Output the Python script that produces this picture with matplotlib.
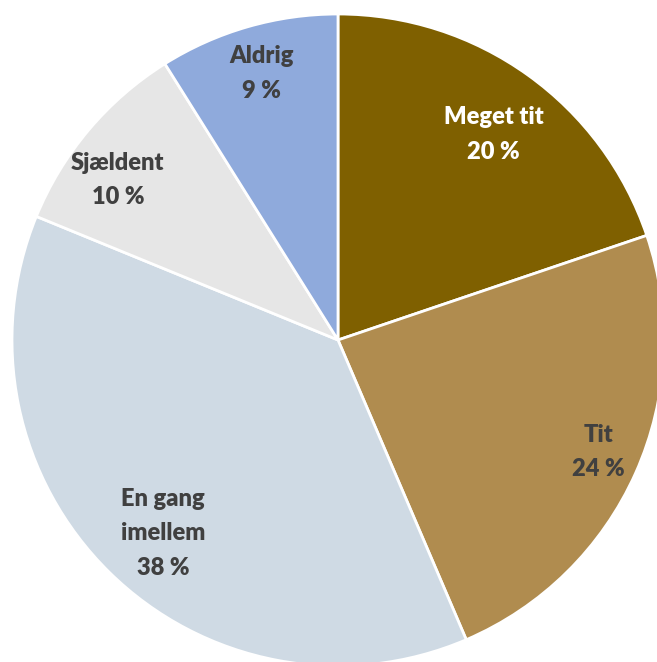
import matplotlib.pyplot as plt
import numpy as np

labels = ["Meget tit", "Tit", "En gang\nimellem", "Sjældent", "Aldrig"]
values = [20, 24, 38, 10, 9]
colors = ["#7F6000", "#B08C4F", "#CFDAE4", "#E6E6E6", "#8FAADC"]
text_colors = ["white", "#404040", "#404040", "#404040", "#404040"]
# label placement: radius fraction and angular nudge (deg) from wedge middle
label_r = [0.79, 0.87, 0.80, 0.835, 0.85]
label_da = [-1.5, 0.8, 2.4, 4.1, 0.0]

fig = plt.figure(figsize=(6.57, 6.62), dpi=100)
ax = fig.add_axes([0, 0, 1, 1])

wedges, _ = ax.pie(values, colors=colors, startangle=90, counterclock=False,
                   wedgeprops=dict(edgecolor="white", linewidth=2))

for w, lab, v, c, r, da in zip(wedges, labels, values, text_colors, label_r, label_da):
    ang = np.deg2rad((w.theta1 + w.theta2) / 2 + da)
    ax.text(r * np.cos(ang), r * np.sin(ang), f"{lab}\n{v} %",
            ha="center", va="center", color=c, fontsize=17,
            fontweight="heavy", family="Lato", linespacing=1.7)

R = 326
ax.set_xlim(-338 / R, (657 - 338) / R)
ax.set_ylim(-322 / R, 340 / R)
ax.set_aspect("equal")
ax.axis("off")

fig.savefig("out.png", dpi=100)
